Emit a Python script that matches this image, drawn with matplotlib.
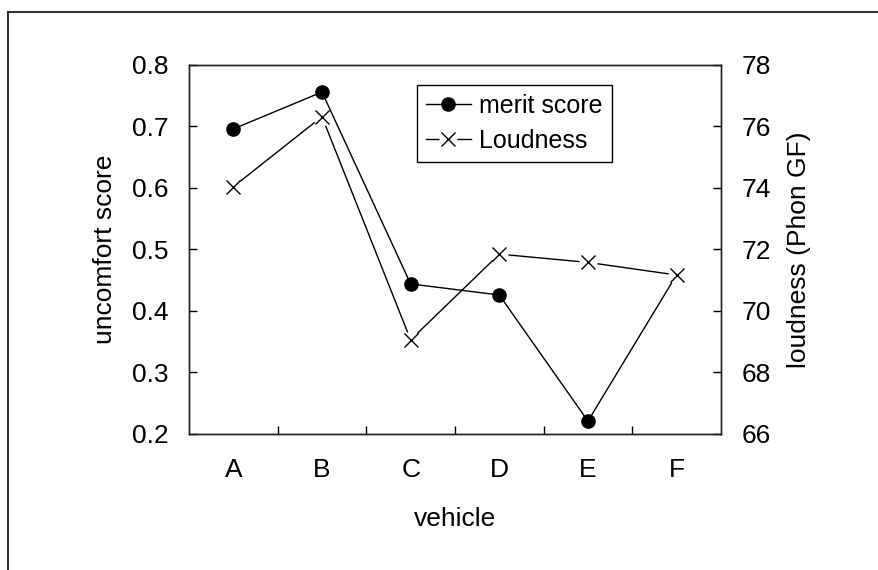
import numpy as np
import matplotlib
matplotlib.use("Agg")
from matplotlib import pyplot as plt
from matplotlib.lines import Line2D
from matplotlib.legend_handler import HandlerTuple

plt.rcParams['font.family'] = ['Liberation Sans', 'DejaVu Sans']

vehicles = ['A', 'B', 'C', 'D', 'E', 'F']
merit = [0.696, 0.756, 0.444, 0.426, 0.221, 0.459]
loudness = [74.04, 76.32, 69.06, 71.85, 71.58, 71.17]

fs = 19
fig = plt.figure(figsize=(8.79, 5.70), dpi=100)
ax = fig.add_axes([0.215, 0.2386, 0.6052, 0.6474])
ax2 = ax.twinx()

x_all = np.arange(len(vehicles))

# merit score, left axis
l1, = ax.plot(x_all, merit, color='black', lw=1, marker='o', ms=9.5,
              mfc='black', mec='black')

# loudness, right axis (white discs give the gap round the crosses)
l2, = ax2.plot(x_all, loudness, color='black', lw=1)
l2b, = ax2.plot(x_all, loudness, ls='None', marker='o', ms=12,
                mfc='white', mec='white')
l2c, = ax2.plot(x_all, loudness, ls='None', marker='x', ms=10,
                mec='black', mew=1)

ax.set_xlim(-0.5, 5.5)
ax.set_ylim(0.2, 0.8)
ax2.set_ylim(66, 78)
ax.set_yticks(np.arange(0.2, 0.81, 0.1))
ax.set_yticklabels(['%.1f' % v for v in np.arange(0.2, 0.81, 0.1)])
ax2.set_yticks(np.arange(66, 79, 2))

ax.set_xticks(x_all)
ax.set_xticklabels(vehicles)
ax.set_xticks(x_all[:-1] + 0.5, minor=True)
ax.tick_params(axis='x', which='major', length=0, pad=17, labelsize=fs)
ax.tick_params(axis='x', which='minor', direction='in', length=6, width=1)
ax.tick_params(axis='y', direction='in', length=6, width=1, pad=15, labelsize=fs)
ax2.tick_params(axis='y', direction='in', length=6, width=1, pad=15, labelsize=fs)

for a in (ax, ax2):
    for s in a.spines.values():
        s.set_linewidth(1)
        s.set_color('#222222')

ax.set_xlabel('vehicle', fontsize=fs)
ax.set_ylabel('uncomfort score', fontsize=fs)
ax2.set_ylabel('loudness (Phon GF)', fontsize=fs)
ax.xaxis.set_label_coords(0.5, -0.198)
ax.yaxis.set_label_coords(-0.135, 0.5)
ax2.yaxis.set_label_coords(1.124, 0.5)

leg = ax2.legend([l1, (l2, l2b, l2c)], ['merit score', 'Loudness'],
                 handler_map={tuple: HandlerTuple(ndivide=1)},
                 loc='upper left', bbox_to_anchor=(0.4286, 0.9458),
                 borderaxespad=0, fontsize=18, handlelength=1.8,
                 handletextpad=0.35, labelspacing=0.45, borderpad=0.35,
                 fancybox=False, framealpha=1, edgecolor='black')
leg.get_frame().set_linewidth(1)

# outer frame (only top and left edges visible)
fig.add_artist(Line2D([8 / 879, 1], [1 - 12 / 570, 1 - 12 / 570],
                      transform=fig.transFigure, color='#333333', lw=1.5))
fig.add_artist(Line2D([8 / 879, 8 / 879], [0, 1 - 12 / 570],
                      transform=fig.transFigure, color='#333333', lw=1.5))

fig.savefig('out.png', dpi=100)
